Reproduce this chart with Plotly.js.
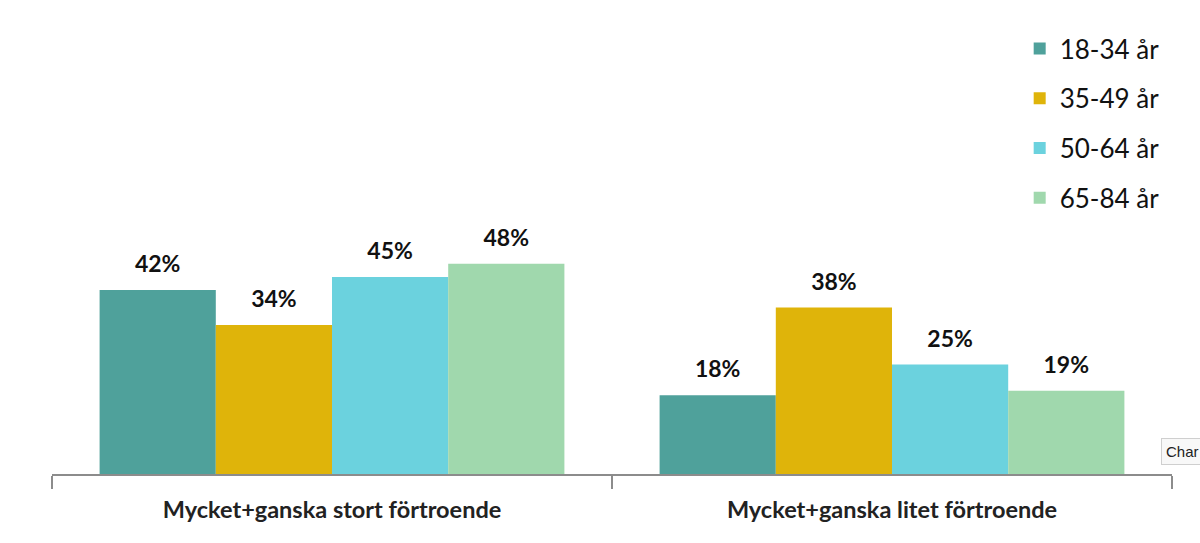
<!DOCTYPE html>
<html>
<head>
<meta charset="utf-8">
<script src="https://cdn.plot.ly/plotly-3.0.1.min.js"></script>
<style>html,body{margin:0;padding:0;background:#fff;}#chart{width:1200px;height:543px;}</style>
</head>
<body>
<div id="chart"></div>
<script>
const categories = ["Mycket+ganska stort förtroende", "Mycket+ganska litet förtroende"];
const seriesNames = ["18-34 år", "35-49 år", "50-64 år", "65-84 år"];
const age18_34 = [42, 18];
const age35_49 = [34, 38];
const age50_64 = [45, 25];
const age65_84 = [48, 19];
const seriesValues = [age18_34, age35_49, age50_64, age65_84];
const colors = ["#4FA19B", "#DFB40A", "#6BD2DE", "#A0D8AD"];
const groups = ["g1", "g2", "g3", "g4"];

const font = "Lato, 'Open Sans', sans-serif";
const traces = [];
seriesValues.forEach((vals, i) => {
  traces.push({
    type: "bar",
    name: seriesNames[i],
    x: categories,
    y: vals,
    marker: {color: colors[i]},
    offsetgroup: groups[i],
    alignmentgroup: "all",
    legendgroup: groups[i],
    hoverinfo: "skip"
  });
});
seriesValues.forEach((vals, i) => {
  traces.push({
    type: "scatter",
    mode: "markers+text",
    x: categories,
    y: vals,
    text: vals.map(v => "<b>" + v + "%</b>"),
    textposition: "top center",
    textfont: {family: font, size: 23, color: "#111"},
    marker: {size: 18, opacity: 0, color: colors[i]},
    offsetgroup: groups[i],
    alignmentgroup: "all",
    showlegend: false,
    hoverinfo: "skip",
    cliponaxis: false
  });
});

const layout = {
  width: 1200,
  height: 543,
  margin: {l: 52, r: 28, t: 36, b: 69},
  paper_bgcolor: "#fff",
  plot_bgcolor: "#fff",
  barmode: "group",
  bargap: 0.17,
  bargroupgap: 0,
  scattermode: "group",
  scattergap: 0.17,
  font: {family: font, color: "#222"},
  xaxis: {
    type: "category",
    showline: true,
    linecolor: "#8c8c8c",
    linewidth: 1.5,
    ticks: "outside",
    tickson: "boundaries",
    ticklen: 13,
    tickwidth: 1.5,
    tickcolor: "#8c8c8c",
    tickfont: {family: font, size: 23.5, color: "#222"},
    ticklabelstandoff: 14,
    tickprefix: "<b>",
    ticksuffix: "</b>",
    showgrid: false,
    zeroline: false,
    fixedrange: true
  },
  yaxis: {
    range: [0, 100],
    visible: false,
    showgrid: false,
    zeroline: false,
    fixedrange: true
  },
  showlegend: true,
  legend: {
    x: 0.864,
    xanchor: "left",
    y: 1.025,
    yanchor: "top",
    traceorder: "grouped",
    tracegroupgap: 13,
    font: {family: font, size: 26, color: "#111"},
    bgcolor: "rgba(0,0,0,0)"
  },
  annotations: [{
    xref: "paper", yref: "paper",
    x: 0.9905, y: 0.0525,
    xanchor: "left", yanchor: "middle",
    text: "Char",
    showarrow: false,
    font: {family: "'Liberation Sans', Arial, sans-serif", size: 15, color: "#222"},
    bgcolor: "#f8f8f8",
    bordercolor: "#cfcfcf",
    borderwidth: 1,
    borderpad: 4
  }]
};

Plotly.newPlot("chart", traces, layout, {displayModeBar: false, staticPlot: true});
</script>
</body>
</html>
